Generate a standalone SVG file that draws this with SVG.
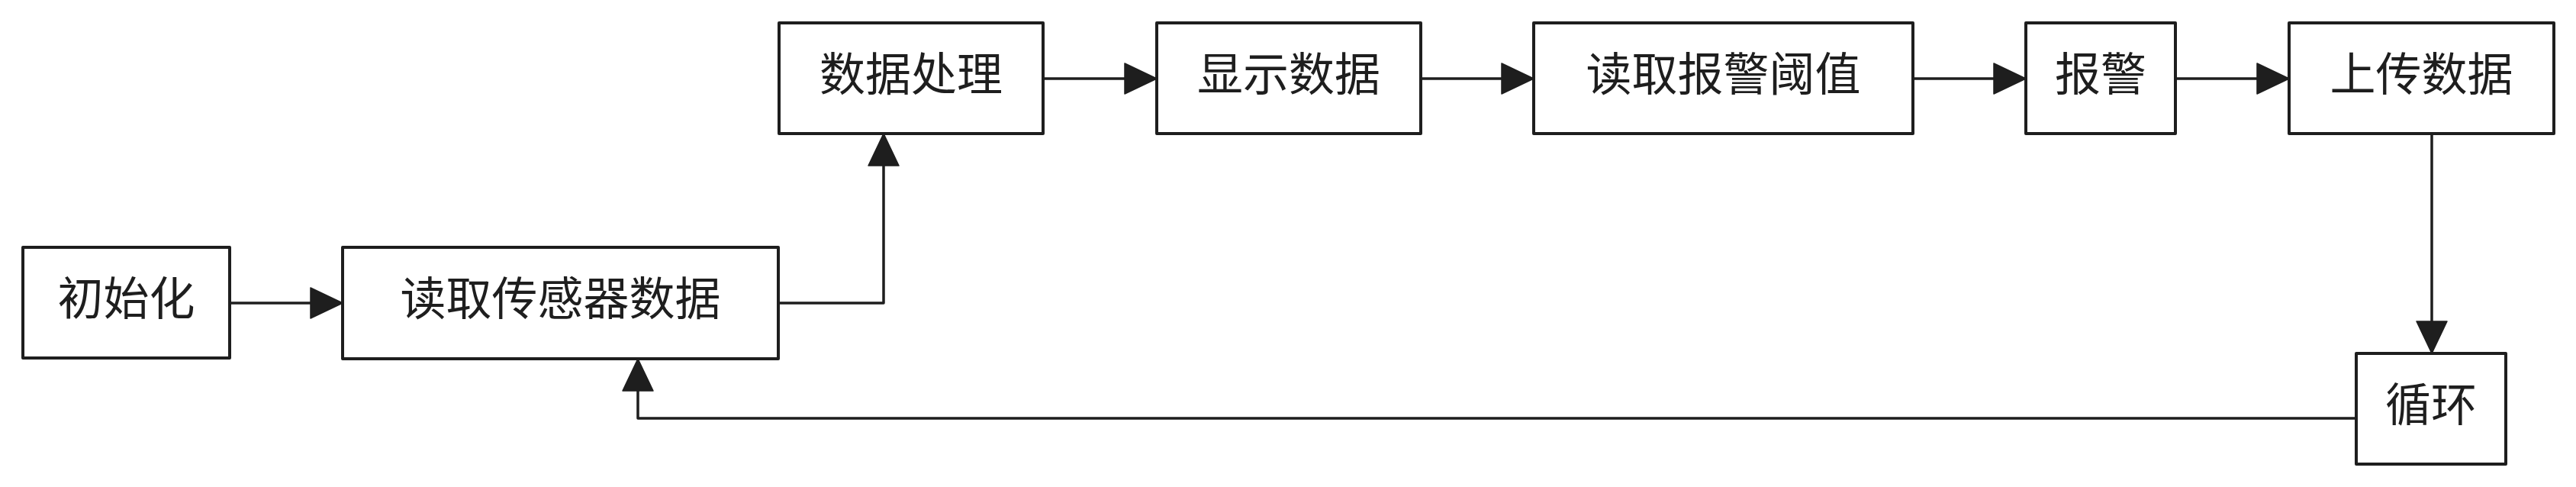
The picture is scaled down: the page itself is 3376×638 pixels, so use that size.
<svg xmlns="http://www.w3.org/2000/svg" width="3376" height="638" viewBox="0 0 3376 638">
  <style>
    .box { fill: #ffffff; stroke: #1e1e1e; stroke-width: 4; stroke-linejoin: round; }
    .lbl { font-family: "Noto Sans CJK SC", "Noto Sans", sans-serif; font-size: 60px; fill: #1e1e1e; text-anchor: middle; }
    .conn { fill: none; stroke: #1e1e1e; stroke-width: 3.5; stroke-linejoin: round; marker-end: url(#arrow); }
  </style>
  <defs>
    <marker id="arrow" markerUnits="userSpaceOnUse" markerWidth="44" markerHeight="42" viewBox="0 0 44 42" refX="43" refY="21" orient="auto">
      <path d="M1,1 L43,21 L1,41 Z" fill="#1e1e1e" stroke="#1e1e1e" stroke-width="1.5" stroke-linejoin="round"/>
    </marker>
  </defs>
  <rect width="3376" height="638" fill="#ffffff"/>

  <g id="connectors">
    <path class="conn" d="M301,397 L449,397"/>
    <path class="conn" d="M1020,397 L1158,397 L1158,175"/>
    <path class="conn" d="M1367,103 L1516,103"/>
    <path class="conn" d="M1862,103 L2010,103"/>
    <path class="conn" d="M2507,103 L2655,103"/>
    <path class="conn" d="M2851,103 L3000,103"/>
    <path class="conn" d="M3187,175 L3187,463"/>
    <path class="conn" d="M3088,548 L836,548 L836,470"/>
  </g>

  <g id="node-init">
    <rect class="box" x="30" y="324" width="271" height="145"/>
    <text class="lbl" x="165.5" y="412.5">初始化</text>
  </g>
  <g id="node-read-sensor">
    <rect class="box" x="449" y="324" width="571" height="146"/>
    <text class="lbl" x="734.5" y="413">读取传感器数据</text>
  </g>
  <g id="node-process">
    <rect class="box" x="1021" y="30" width="346" height="145"/>
    <text class="lbl" x="1194" y="118.5">数据处理</text>
  </g>
  <g id="node-display">
    <rect class="box" x="1516" y="30" width="346" height="145"/>
    <text class="lbl" x="1689" y="118.5">显示数据</text>
  </g>
  <g id="node-threshold">
    <rect class="box" x="2010" y="30" width="497" height="145"/>
    <text class="lbl" x="2258.5" y="118.5">读取报警阈值</text>
  </g>
  <g id="node-alarm">
    <rect class="box" x="2655" y="30" width="196" height="145"/>
    <text class="lbl" x="2753" y="118.5">报警</text>
  </g>
  <g id="node-upload">
    <rect class="box" x="3000" y="30" width="347" height="145"/>
    <text class="lbl" x="3173.5" y="118.5">上传数据</text>
  </g>
  <g id="node-loop">
    <rect class="box" x="3088" y="463" width="196" height="145"/>
    <text class="lbl" x="3186" y="551.5">循环</text>
  </g>
</svg>
